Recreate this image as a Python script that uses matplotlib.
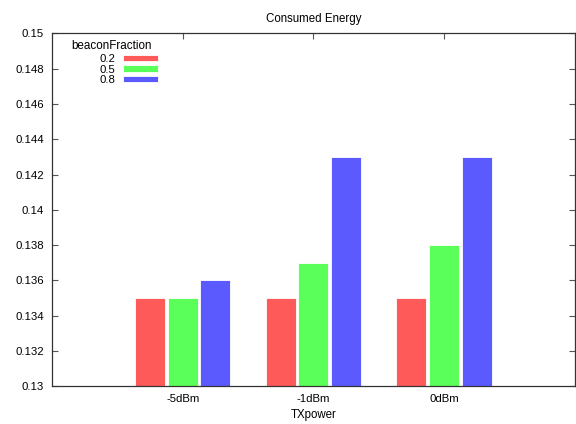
import matplotlib
matplotlib.use("Agg")
import matplotlib.pyplot as plt
import numpy as np

plt.rcParams['font.family'] = ['Liberation Sans', 'DejaVu Sans']

categories = ["-5dBm", "-1dBm", "0dBm"]
series_names = ["0.2", "0.5", "0.8"]
values_02 = [0.135, 0.135, 0.135]
values_05 = [0.135, 0.137, 0.138]
values_08 = [0.136, 0.143, 0.143]
colors = ["#ff5a5a", "#5aff5a", "#5a5aff"]
yticks = [0.13, 0.132, 0.134, 0.136, 0.138, 0.14, 0.142, 0.144, 0.146, 0.148, 0.15]

fig = plt.figure(figsize=(5.76, 4.24), dpi=100)
ax = fig.add_axes([0.0903, 0.0896, 0.9077, 0.8314])

x = np.arange(len(categories))
offsets = [-0.25, 0.0, 0.25]
handles = []
for vals, off, c, name in zip([values_02, values_05, values_08], offsets, colors, series_names):
    h = ax.bar(x + off, np.array(vals) - 0.13, bottom=0.13, width=0.23, color=c,
               edgecolor="white", linewidth=0.6, label=name, zorder=2)
    handles.append(h)

ax.set_xlim(-1, 3)
ax.set_ylim(0.13, 0.15)
ax.set_xticks(x)
ax.set_xticklabels(categories)
ax.set_yticks(yticks)
ax.set_yticklabels([f"{v:g}" for v in yticks])
ax.tick_params(direction="in", length=4, width=0.8, labelsize=8.2, top=True, right=True, color="#555555")
ax.tick_params(axis="x", pad=6)
ax.tick_params(axis="y", pad=5.8)
for s in ax.spines.values():
    s.set_color("#333333")
    s.set_linewidth(0.9)

ax.set_title("Consumed Energy", fontsize=8.3, pad=8)
ax.set_xlabel("TXpower", fontsize=8.3, labelpad=3.5)

fig.text(71 / 576, 1 - 46 / 424, "beaconFraction", fontsize=8.4, ha="left", va="center")
leg = ax.legend(handles=handles, labels=series_names, loc="upper left",
                bbox_to_anchor=(99 / 576, 1 - 54 / 424), bbox_transform=fig.transFigure,
                frameon=False, fontsize=8.2, markerfirst=False, handlelength=3.1,
                handleheight=0.45, labelspacing=0.05, handletextpad=0.7,
                borderpad=0.0, borderaxespad=0.0)

fig.savefig("out.png", dpi=100)
